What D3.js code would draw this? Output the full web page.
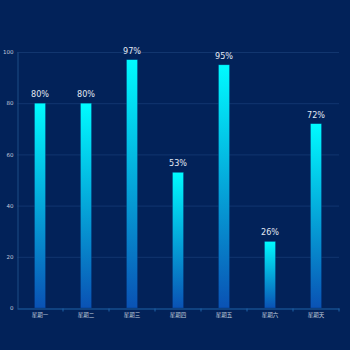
<!DOCTYPE html>
<html><head><meta charset="utf-8">
<script src="https://cdn.jsdelivr.net/npm/d3@7"></script>
<style>html,body{margin:0;padding:0;background:#022259;}svg{display:block;}</style>
</head><body>
<script>
const categories = ["星期一","星期二","星期三","星期四","星期五","星期六","星期天"];
const values = [80, 80, 97, 53, 95, 26, 72];
const yTicks = [0, 20, 40, 60, 80, 100];

const W = 350, H = 350;
const margin = {left: 17, right: 11, top: 52, bottom: 42};
const svg = d3.select("body").append("svg").attr("width", W).attr("height", H);
svg.append("rect").attr("width", W).attr("height", H).attr("fill", "#022259");

const defs = svg.append("defs");
const grad = defs.append("linearGradient").attr("id", "barGrad")
  .attr("x1", 0).attr("y1", 0).attr("x2", 0).attr("y2", 1);
grad.append("stop").attr("offset", "0%").attr("stop-color", "#00fbff");
grad.append("stop").attr("offset", "100%").attr("stop-color", "#0a52b4");

const x = d3.scaleBand().domain(categories).range([margin.left, W - margin.right]).paddingInner(0).paddingOuter(0);
const y = d3.scaleLinear().domain([0, 100]).range([H - margin.bottom, margin.top]);

// grid
svg.append("g").selectAll("line").data(yTicks.filter(d => d > 0)).join("line")
  .attr("x1", margin.left).attr("x2", W - margin.right)
  .attr("y1", d => y(d) + 0.5).attr("y2", d => y(d) + 0.5)
  .attr("stroke", "#12366f").attr("stroke-width", 1);

// y axis
const yAxis = svg.append("g").attr("transform", `translate(${margin.left + 0.5},0)`)
  .call(d3.axisLeft(y).tickValues(yTicks).tickSize(0).tickPadding(4));
yAxis.select(".domain").attr("stroke", "#1d4c86");
yAxis.selectAll("text").attr("fill", "#c0cbdd").attr("font-size", 5.5).attr("font-family", "DejaVu Sans");

// bars
const bw = 11;
svg.append("g").selectAll("rect").data(values).join("rect")
  .attr("x", (d, i) => x(categories[i]) + x.bandwidth() / 2 - bw / 2)
  .attr("width", bw)
  .attr("y", d => y(d))
  .attr("height", d => y(0) - y(d))
  .attr("fill", "url(#barGrad)")
  .attr("stroke", "rgba(0,40,110,0.5)").attr("stroke-width", 0.6);

// value labels
svg.append("g").selectAll("text").data(values).join("text")
  .attr("x", (d, i) => x(categories[i]) + x.bandwidth() / 2)
  .attr("y", d => y(d) - 6)
  .attr("text-anchor", "middle")
  .attr("fill", "#e3e9f3").attr("font-size", 9).attr("font-family", "DejaVu Sans Condensed, DejaVu Sans")
  .text(d => d + "%");

// x axis
const xAxis = svg.append("g").attr("transform", `translate(0,${y(0) + 0.5})`)
  .call(d3.axisBottom(x).tickSize(3).tickPadding(2).tickSizeOuter(0));
xAxis.select(".domain").attr("stroke", "#1e63a8");
xAxis.selectAll(".tick line").attr("stroke", "#1e63a8")
  .attr("transform", `translate(${x.bandwidth() / 2},0)`);
xAxis.selectAll("text").attr("fill", "#c0cbdd").attr("font-size", 5.5).attr("font-family", "Noto Sans CJK SC");
</script>
</body></html>
